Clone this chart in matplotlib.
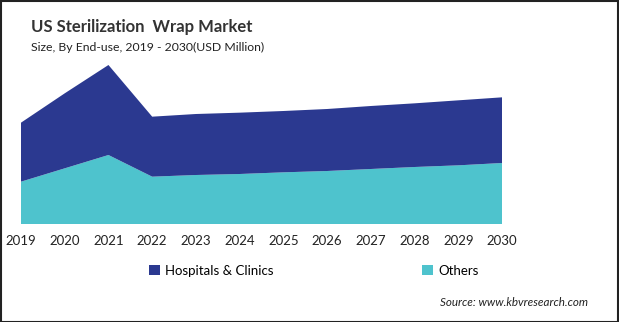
import matplotlib
matplotlib.use("Agg")
import matplotlib.pyplot as plt
from matplotlib.patches import Patch, Rectangle

plt.rcParams['font.family'] = ['Lato', 'DejaVu Sans']

years = [2019, 2020, 2021, 2022, 2023, 2024, 2025, 2026, 2027, 2028, 2029, 2030]
others = [12.7, 16.7, 20.7, 14.2, 14.7, 15.0, 15.5, 15.9, 16.5, 17.1, 17.6, 18.3]
hospitals = [17.7, 22.5, 27.0, 18.0, 18.3, 18.4, 18.4, 18.6, 18.9, 19.1, 19.5, 19.7]
series_names = ["Hospitals & Clinics", "Others"]
colors = {"Hospitals & Clinics": "#2B3990", "Others": "#4EC3CD"}

W, H = 619, 322
fig = plt.figure(figsize=(W / 100, H / 100), dpi=100)
fig.patch.set_facecolor("white")

left, right, bottom_px, top_px = 21, 502, 224, 60
ax = fig.add_axes([left / W, (H - bottom_px) / H, (right - left) / W, (bottom_px - top_px) / H])
ax.stackplot(years, others, hospitals,
             colors=[colors["Others"], colors["Hospitals & Clinics"]], linewidth=0)
ax.set_xlim(2019, 2030)
ax.set_ylim(0, 49.2)
ax.set_yticks([])
ax.set_xticks(years)
ax.set_xticklabels([str(y) for y in years], fontsize=9.5, color="#222222")
ax.tick_params(axis="x", length=0, pad=8)
for s in ax.spines.values():
    s.set_visible(False)
ax.patch.set_alpha(0)

fig.text(31 / W, 1 - 27 / H, "US Sterilization  Wrap Market", fontsize=12,
         fontweight="bold", color="#333333", va="center", ha="left")
fig.text(31 / W, 1 - 47 / H, "Size, By End-use, 2019 - 2030(USD Million)", fontsize=8.8,
         color="#222222", va="center", ha="left")

handles = [Patch(facecolor=colors[n], edgecolor="none") for n in series_names]
fig.legend(handles, series_names, loc="center left", bbox_to_anchor=(149 / W, 1 - 271 / H),
           ncol=2, frameon=False, fontsize=9.5, handlelength=0.8, handleheight=0.8,
           handletextpad=0.4, columnspacing=11.3, borderaxespad=0, borderpad=0)

fig.text(588 / W, 1 - 303 / H, "Source: www.kbvresearch.com", fontsize=8.4,
         style="italic", color="#222222", va="center", ha="right")

fig.patches.append(Rectangle((0.5 / W, 0.5 / H), 1 - 1.5 / W, 1 - 1.5 / H, transform=fig.transFigure,
                             fill=False, edgecolor="#222222", linewidth=1.5))

fig.savefig("out.png", dpi=100)
